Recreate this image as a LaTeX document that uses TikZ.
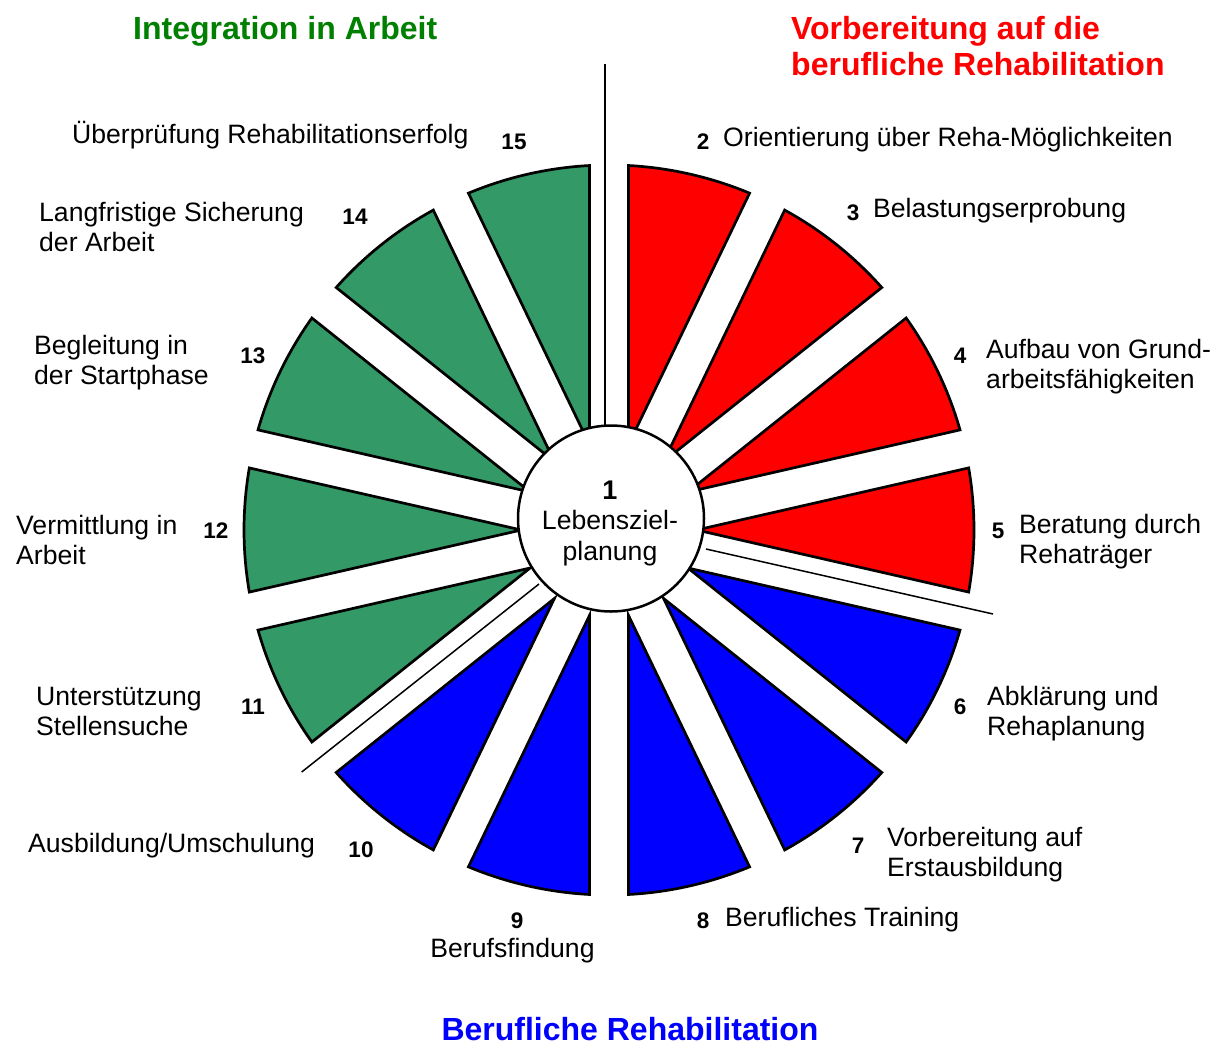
\documentclass[tikz,border=0pt]{standalone}
\usepackage{fontspec}
\setmainfont{Liberation Sans}
\usetikzlibrary{calc}
\definecolor{wgreen}{RGB}{51,153,102}
\definecolor{tgreen}{RGB}{0,128,0}
\definecolor{wred}{RGB}{255,0,0}
\definecolor{wblue}{RGB}{0,0,255}
\begin{document}
\begin{tikzpicture}[x=1pt,y=1pt,
  wedge/.style={draw=black, line width=2.7pt, line join=miter},
  lbl/.style={font=\fontsize{26.6}{30}\selectfont, inner sep=0pt, align=left, anchor=west},
  num/.style={font=\fontsize{22.5}{26}\selectfont\bfseries, inner sep=0pt},
  ttl/.style={font=\fontsize{32}{36}\selectfont\bfseries, inner sep=0pt, align=left},
  sepline/.style={line width=1.5pt}]
\useasboundingbox (0,0) rectangle (1220,-1044);
\fill[white] (0,0) rectangle (1220,-1044);
\coordinate (C) at (609,-530);
% wedges
\foreach \n/\col in {2/wred,3/wred,4/wred,5/wred,6/wblue,7/wblue,8/wblue,9/wblue,10/wblue,11/wgreen,12/wgreen,13/wgreen,14/wgreen,15/wgreen}{
  \pgfmathsetmacro{\ang}{90-25.7142857*(\n-2)-12.8571429}
  \pgfmathsetmacro{\aa}{\ang+12.8571429}
  \pgfmathsetmacro{\sa}{\ang+12.8571429-3.062}
  \pgfmathsetmacro{\ea}{\ang-12.8571429+3.062}
  \draw[wedge, fill=\col] ($(C)+(\ang:87.63)$) -- ++(\aa:279.05)
     arc[start angle=\sa, end angle=\ea, radius=365] -- cycle;
}
% separator lines
\coordinate (s1a) at (605,-64);
\coordinate (s1b) at (605,-480);
\coordinate (s2a) at (706,-549);
\coordinate (s2b) at (993,-614);
\coordinate (s3a) at (539,-584);
\coordinate (s3b) at (301.7,-772);
\draw[sepline] (s1a) -- (s1b);
\draw[sepline] (s2a) -- (s2b);
\draw[sepline] (s3a) -- (s3b);
% center circle
\node[circle, draw=black, line width=2.5pt, fill=white, minimum size=186pt, inner sep=0pt] (c1) at (611,-518.5) {};
\node[font=\fontsize{26.6}{30.5}\selectfont, align=center, inner sep=0pt] (n1) at (610,-523)
  {{\fontsize{27}{30.5}\selectfont\bfseries 1}\\Lebensziel-\\planung};
% titles
\node[ttl, text=tgreen, anchor=west] (tg) at (133,-31) {Integration in Arbeit};
\node[ttl, text=wred, anchor=north west] (tr) at (791,-16) {Vorbereitung auf die\\berufliche Rehabilitation};
\node[ttl, text=wblue] (tb) at (630,-1029) {Berufliche Rehabilitation};
% numbers
\node[num] (k2) at (703,-142) {2};
\node[num] (k3) at (853,-213) {3};
\node[num] (k4) at (960,-356) {4};
\node[num] (k5) at (998,-531) {5};
\node[num] (k6) at (960,-707) {6};
\node[num] (k7) at (858,-846) {7};
\node[num] (k8) at (703,-921) {8};
\node[num] (k9) at (517,-921) {9};
\node[num] (k10) at (361,-850) {10};
\node[num] (k11) at (253,-707) {11};
\node[num] (k12) at (216,-531) {12};
\node[num] (k13) at (253,-356) {13};
\node[num] (k14) at (355,-217) {14};
\node[num] (k15) at (514,-142) {15};
% labels
\node[lbl] (l2) at (723,-139.5) {Orientierung über Reha-Möglichkeiten};
\node[lbl] (l3) at (873,-210.5) {Belastungserprobung};
\node[lbl] (l4) at (986,-366.5) {Aufbau von Grund-\\arbeitsfähigkeiten};
\node[lbl] (l5) at (1019,-541.5) {Beratung durch\\Rehaträger};
\node[lbl] (l6) at (987,-714) {Abklärung und\\Rehaplanung};
\node[lbl] (l7) at (887,-854.5) {Vorbereitung auf\\Erstausbildung};
\node[lbl] (l8) at (725,-920) {Berufliches Training};
\node[lbl, anchor=center] (l9) at (512.5,-951) {Berufsfindung};
\node[lbl] (l10) at (28,-845.5) {Ausbildung/Umschulung};
\node[lbl] (l11) at (36,-711) {Unterstützung\\Stellensuche};
\node[lbl] (l12) at (16,-539.5) {Vermittlung in\\Arbeit};
\node[lbl] (l13) at (34,-363) {Begleitung in\\der Startphase};
\node[lbl] (l14) at (39,-227) {Langfristige Sicherung\\der Arbeit};
\node[lbl] (l15) at (72,-135.5) {Überprüfung Rehabilitationserfolg};
\end{tikzpicture}
\end{document}
